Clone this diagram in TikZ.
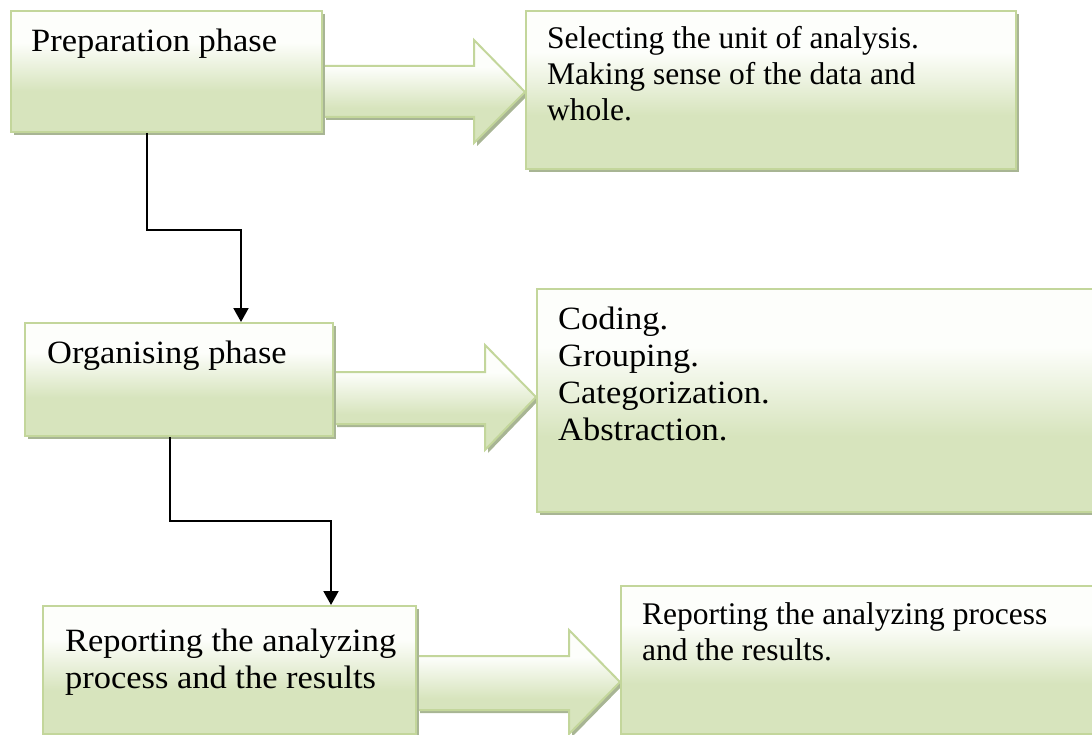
\documentclass[tikz,border=0pt]{standalone}
\usepackage{fontspec}
\setmainfont{Liberation Serif}
\newfontfamily\cambfont{Liberation Serif}[FakeStretch=1.06]
\usetikzlibrary{arrows.meta,shadows}
\definecolor{bord}{HTML}{C3D69B}
\definecolor{gtop}{HTML}{FDFEFB}
\definecolor{gbot}{HTML}{D7E4BD}
\definecolor{shad}{HTML}{A8B594}
\pgfdeclareverticalshading{greenshade}{100bp}{color(0bp)=(gbot); color(25bp)=(gbot); color(42bp)=(gbot); color(62bp)=(gtop); color(75bp)=(gtop); color(100bp)=(gtop)}
\pgfdeclarelayer{bg}
\pgfsetlayers{bg,main}
\tikzset{
  box/.style={rectangle, draw=bord, line width=2pt, shading=greenshade, inner sep=0pt, anchor=north west,
    drop shadow={shadow xshift=3pt, shadow yshift=-3pt, fill=shad, opacity=1}},
  blockarrow/.style={draw=bord, line width=2pt, shading=greenshade, line join=miter,
    drop shadow={shadow xshift=3pt, shadow yshift=-3pt, fill=shad, opacity=1}},
  conn/.style={draw=black, line width=2pt, -{Triangle[length=14pt,width=15pt]}},
  ctxt/.style={anchor=base west, inner sep=0pt, align=left, font=\cambfont\fontsize{32.5pt}{37pt}\selectfont},
  ttxt/.style={anchor=base west, inner sep=0pt, align=left, font=\fontsize{31.5pt}{36pt}\selectfont}
}
\begin{document}
\begin{tikzpicture}[x=1pt,y=-1pt]
\useasboundingbox (0,0) rectangle (1092,735);
% boxes
\node[box, minimum width=311pt, minimum height=121pt] (b1) at (10,10) {};
\node[box, minimum width=490pt, minimum height=158pt] (b2) at (525,10) {};
\node[box, minimum width=308pt, minimum height=113pt] (b3) at (24,322) {};
\node[box, minimum width=564pt, minimum height=223pt] (b4) at (536,288) {};
\node[box, minimum width=373pt, minimum height=128pt] (b5) at (42,605) {};
\node[box, minimum width=480pt, minimum height=148pt] (b6) at (620,585) {};
% texts (anchor = baseline of the last line)
\node[ctxt] (t1) at (31,52) {Preparation phase};
\node[ttxt] (t2) at (547,121) {Selecting the unit of analysis.\\Making sense of the data and\\whole.};
\node[ctxt] (t3) at (47,363) {Organising phase};
\node[ctxt] (t4) at (558,440) {Coding.\\Grouping.\\Categorization.\\Abstraction.};
\node[ctxt] (t5) at (65,688) {Reporting the analyzing\\process and the results};
\node[ttxt] (t6) at (642,660) {Reporting the analyzing process\\and the results.};
% block arrows
\begin{pgfonlayer}{bg}
\draw[blockarrow] (b1.east |- 0,66) -- (474,66) -- (474,40) -- (b2.west |- 0,92) -- (474,143) -- (474,117) -- (b1.east |- 0,117) -- cycle;
\draw[blockarrow] (b3.east |- 0,372) -- (485,372) -- (485,345) -- (b4.west |- 0,397) -- (485,450) -- (485,424) -- (b3.east |- 0,424) -- cycle;
\draw[blockarrow] (b5.east |- 0,656) -- (569,656) -- (569,630) -- (b6.west |- 0,682) -- (569,734) -- (569,710) -- (b5.east |- 0,710) -- cycle;
\end{pgfonlayer}
% connectors
\draw[conn] ([xshift=137pt]b1.south west) -- ++(0,97) -| ([xshift=217pt]b3.north west);
\draw[conn] ([xshift=146pt]b3.south west) -- ++(0,84) -| ([xshift=289pt]b5.north west);
\end{tikzpicture}
\end{document}
